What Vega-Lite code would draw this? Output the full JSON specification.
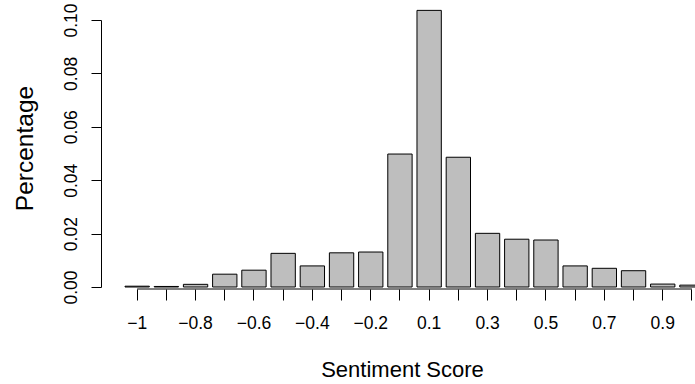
{
  "$schema": "https://vega.github.io/schema/vega-lite/v6.json",
  "autosize": "none",
  "width": 594,
  "height": 267,
  "padding": {"left": 101, "top": 20, "right": 0, "bottom": 97},
  "background": "white",
  "config": {
    "view": {"stroke": null},
    "font": "Liberation Sans",
    "axis": {"domainColor": "black", "tickColor": "black", "labelColor": "black", "titleColor": "black", "grid": false, "labelFont": "Liberation Sans", "titleFont": "Liberation Sans", "titleFontWeight": "normal", "domainWidth": 1, "tickWidth": 1}
  },
  "data": {"values": [
    {"score": "-1", "pct": 0.0003},
    {"score": "-0.9", "pct": 0.0002},
    {"score": "-0.8", "pct": 0.001},
    {"score": "-0.7", "pct": 0.0048},
    {"score": "-0.6", "pct": 0.0063},
    {"score": "-0.5", "pct": 0.0126},
    {"score": "-0.4", "pct": 0.0079},
    {"score": "-0.3", "pct": 0.0128},
    {"score": "-0.2", "pct": 0.0131},
    {"score": "-0.1", "pct": 0.0498},
    {"score": "0.1", "pct": 0.1036},
    {"score": "0.2", "pct": 0.0486},
    {"score": "0.3", "pct": 0.0201},
    {"score": "0.4", "pct": 0.0179},
    {"score": "0.5", "pct": 0.0176},
    {"score": "0.6", "pct": 0.0079},
    {"score": "0.7", "pct": 0.0070},
    {"score": "0.8", "pct": 0.0061},
    {"score": "0.9", "pct": 0.0011},
    {"score": "1", "pct": 0.0007}
  ]},
  "layer": [
    {
      "mark": {"type": "bar", "fill": "#bebebe", "stroke": "black", "strokeWidth": 1},
      "encoding": {
        "x": {
          "field": "score", "type": "ordinal", "sort": null,
          "scale": {
            "domain": ["-1","-0.9","-0.8","-0.7","-0.6","-0.5","-0.4","-0.3","-0.2","-0.1","0.1","0.2","0.3","0.4","0.5","0.6","0.7","0.8","0.9","1"],
            "range": [24, 603.1], "paddingInner": 0.1667, "paddingOuter": 0
          },
          "axis": {
            "title": "Sentiment Score", "titleFontSize": 22, "titlePadding": 28, "titleX": 301,
            "labelAngle": 0, "labelFontSize": 17.5, "labelPadding": 14, "labelOverlap": false,
            "labelExpr": "indexof(['-1','-0.8','-0.6','-0.4','-0.2','0.1','0.3','0.5','0.7','0.9'], datum.value) >= 0 ? replace(datum.label, '-', '\u2212') : ''",
            "tickSize": 11, "domain": false, "offset": 2
          }
        },
        "y": {
          "field": "pct", "type": "quantitative",
          "scale": {"domain": [0, 0.1], "nice": false, "zero": true},
          "axis": {
            "title": "Percentage", "titleFontSize": 24.5, "titlePadding": 25, "titleY": 128,
            "values": [0, 0.02, 0.04, 0.06, 0.08, 0.1], "format": ".2f",
            "labelAngle": 270, "labelAlign": "center", "labelBaseline": "bottom",
            "labelFontSize": 17.5, "labelPadding": 11, "tickSize": 10
          }
        }
      }
    },
    {
      "data": {"values": [{"from": "-1", "to": "1", "base": 0}]},
      "mark": {"type": "rule", "color": "black", "strokeWidth": 1, "yOffset": 2},
      "encoding": {
        "x": {"field": "from", "type": "ordinal"},
        "x2": {"field": "to"},
        "y": {"field": "base", "type": "quantitative"}
      }
    }
  ]
}
